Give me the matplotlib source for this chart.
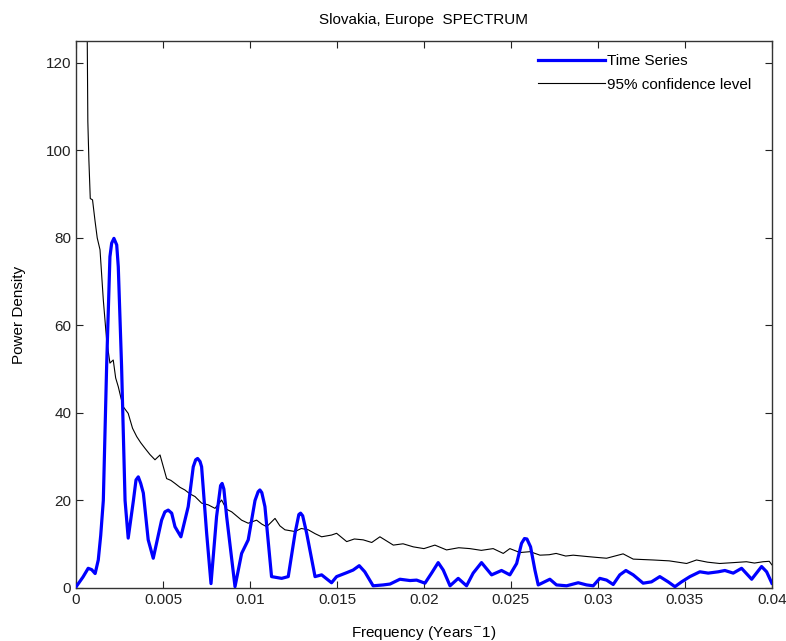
import numpy as np
import matplotlib.pyplot as plt
from matplotlib.ticker import FuncFormatter

plt.rcParams['font.family'] = ['Liberation Sans', 'DejaVu Sans']
plt.rcParams['font.size'] = 11

# time series spectrum
freq = [0.00001, 0.0004, 0.0007, 0.0009, 0.0011, 0.00128, 0.00142, 0.00157, 0.00176,
        0.00195, 0.00205, 0.00218, 0.00234, 0.00243, 0.00262, 0.00282, 0.0030, 0.0033,
        0.00345, 0.00358, 0.00372, 0.00387,
        0.00415, 0.00444, 0.00492, 0.00511, 0.0053, 0.0055, 0.00569, 0.00603, 0.00645,
        0.00674, 0.00688, 0.00699, 0.00713,
        0.00722, 0.00751, 0.00776, 0.00808, 0.00831, 0.0084, 0.0085, 0.00866, 0.00914,
        0.00952, 0.0099, 0.01029, 0.01047, 0.01057, 0.01068, 0.01086, 0.01124, 0.01182,
        0.0122, 0.01259, 0.01281, 0.01291, 0.01303, 0.01326,
        0.01374, 0.01412, 0.01469, 0.01498, 0.01556, 0.01593, 0.01628, 0.0166, 0.01708,
        0.01766, 0.01805, 0.01862, 0.0192, 0.01958, 0.02006, 0.02044, 0.02082, 0.02111,
        0.0215, 0.02197, 0.02245, 0.02283, 0.02331, 0.02389, 0.02446, 0.02494, 0.02533,
        0.02561, 0.02578, 0.02592, 0.02613, 0.02638, 0.02657, 0.02724, 0.02762, 0.0282, 0.02887,
        0.02935, 0.02973, 0.03011, 0.0305, 0.03088, 0.03126, 0.03161, 0.03203, 0.0326,
        0.03308, 0.03356, 0.03404, 0.03443, 0.03481, 0.03529, 0.03586, 0.03634, 0.03692,
        0.0373, 0.03778, 0.03826, 0.03884, 0.03941, 0.0397, 0.04]
power = [0.3, 2.5, 4.5, 4.2, 3.3, 6.4, 12.0, 20.0, 50.6,
         75.7, 78.8, 79.9, 78.4, 73.4, 50.6, 20.0, 11.4, 20.0,
         24.7, 25.4, 23.9, 21.7,
         11.0, 6.8, 15.5, 17.4, 17.8, 17.1, 14.0, 11.7, 18.6,
         27.7, 29.3, 29.6, 28.9,
         27.7, 12.5, 1.0, 16.3, 23.4, 23.9, 22.6, 16.3, 0.3,
         7.9, 11.0, 20.0, 22.0, 22.4, 21.8, 18.6, 2.6, 2.2,
         2.6, 12.5, 16.8, 17.1, 16.5, 12.5,
         2.6, 3.0, 1.2, 2.6, 3.5, 4.1, 5.1, 3.7, 0.5,
         0.7, 0.9, 2.0, 1.7, 1.8, 1.1, 3.4, 5.8, 4.1,
         0.5, 2.2, 0.5, 3.4, 5.8, 3.0, 4.0, 3.0, 5.6,
         10.2, 11.3, 11.2, 9.4, 4.1, 0.7, 2.0, 0.7, 0.5, 1.2,
         0.7, 0.5, 2.2, 1.8, 0.8, 3.0, 4.0, 3.0, 1.1,
         1.4, 2.6, 1.4, 0.3, 1.4, 2.6, 3.7, 3.4, 3.7,
         4.0, 3.4, 4.5, 2.0, 4.9, 3.7, 1.1]

# 95% confidence level
conf_freq = [0.00062, 0.00068, 0.00074, 0.00082, 0.00095, 0.00109, 0.00122, 0.00138,
             0.00157, 0.00176, 0.00195, 0.00214, 0.00228, 0.00243, 0.00258, 0.00272,
             0.003, 0.00325, 0.00349, 0.00372, 0.00397, 0.00425, 0.00454, 0.00483,
             0.00521, 0.00545, 0.00569, 0.00598, 0.00626, 0.00655, 0.00684, 0.00722,
             0.0076, 0.00799, 0.00837, 0.00865, 0.00895, 0.00952, 0.0099, 0.01038,
             0.01068, 0.01096, 0.01144, 0.01172, 0.01201, 0.01259, 0.01295, 0.01335,
             0.01375, 0.01412, 0.01469, 0.01498, 0.01556, 0.016, 0.01651, 0.017,
             0.01747, 0.01824, 0.0188, 0.01939, 0.02, 0.02063, 0.0213, 0.022, 0.02264,
             0.0233, 0.02398, 0.02456, 0.02494, 0.02552, 0.0261, 0.02667, 0.0272,
             0.0276, 0.02815, 0.02858, 0.02935, 0.0299, 0.0305, 0.03145, 0.03203,
             0.0326, 0.03318, 0.0341, 0.0351, 0.03567, 0.0363, 0.037, 0.0378, 0.03854,
             0.039, 0.0395, 0.03985, 0.04]
conf_level = [140.0, 106.6, 97.8, 89.0, 88.7, 84.0, 80.0, 77.3,
              65.8, 56.7, 51.4, 52.1, 48.0, 46.0, 43.5, 41.4,
              39.9, 36.5, 34.6, 33.2, 31.9, 30.5, 29.3, 30.4,
              25.0, 24.6, 23.9, 23.0, 22.4, 21.5, 20.9, 19.4,
              19.0, 18.2, 20.1, 18.0, 17.4, 15.5, 14.8, 15.5,
              14.6, 14.0, 15.9, 14.2, 13.3, 12.9, 13.6, 13.3,
              12.4, 11.7, 12.1, 12.5, 10.6, 11.2, 11.0, 10.4,
              11.7, 9.8, 10.1, 9.4, 9.0, 9.8, 8.7, 9.2, 9.0,
              8.6, 9.0, 7.9, 9.0, 8.1, 8.3, 7.5, 7.6,
              7.9, 7.3, 7.5, 7.2, 7.0, 6.8, 7.8, 6.6,
              6.5, 6.4, 6.2, 5.6, 6.4, 5.9, 5.6, 5.8, 6.0,
              5.7, 6.0, 6.1, 5.3]

fig = plt.figure(figsize=(7.86, 6.41), dpi=100)
ax = fig.add_axes([0.0967, 0.0827, 0.8853, 0.8533])

ax.plot(freq, power, color='#0000ff', lw=2.3, label='Time Series', zorder=3,
        solid_joinstyle='round')
ax.plot(conf_freq, conf_level, color='black', lw=0.8, label='95% confidence level', zorder=2)

ax.set_xlim(0, 0.04)
ax.set_ylim(0, 125)
ax.set_xticks(np.arange(0, 0.0401, 0.005))
ax.set_yticks(range(0, 121, 20))
ax.xaxis.set_major_formatter(FuncFormatter(lambda v, p: '%g' % round(v, 4)))
ax.tick_params(direction='in', top=True, right=True, length=5, width=0.8,
               colors='#222222', labelsize=11)
for s in ax.spines.values():
    s.set_color('#333333')
    s.set_linewidth(1.0)

ax.set_title('Slovakia, Europe  SPECTRUM', fontsize=11, pad=12)
ax.set_xlabel('Frequency (Years$^{-}$1)', fontsize=11, labelpad=12)
ax.set_ylabel('Power Density', fontsize=11, labelpad=14)

ax.legend(loc='upper right', bbox_to_anchor=(0.988, 0.998), frameon=False, fontsize=11,
          handlelength=4.4, handletextpad=0.15, borderaxespad=0.4, labelspacing=0.6)

fig.savefig('out.png', dpi=100)
